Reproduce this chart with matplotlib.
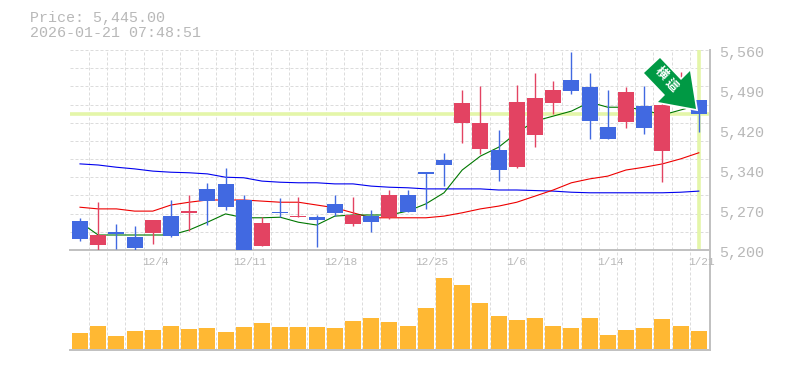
import numpy as np
import matplotlib
matplotlib.use('Agg')
import matplotlib.pyplot as plt

# candle values, oldest first
dates = ['12/4', '12/11', '12/18', '12/25', '1/6', '1/14', '1/21']
date_idx = [4, 9, 14, 19, 24, 29, 34]
opens = [5252, 5209, 5232, 5223, 5231, 5261, 5267, 5310, 5319, 5290, 5207, 5268, 5259, 5259, 5283, 5247, 5261, 5259,
         5299, 5340, 5362, 5429, 5382, 5380, 5349, 5407, 5465, 5506, 5493, 5421, 5430, 5459, 5378, 5470, 5470]
closes = [5220, 5227, 5229, 5204, 5254, 5225, 5270, 5288, 5277, 5200, 5249, 5267, 5261, 5254, 5267, 5263, 5250, 5299,
          5268, 5337, 5353, 5465, 5429, 5344, 5466, 5474, 5488, 5486, 5432, 5400, 5484, 5420, 5461, 5497, 5445]
highs = [5258, 5286, 5247, 5243, 5254, 5290, 5299, 5321, 5348, 5299, 5259, 5294, 5295, 5263, 5299, 5295, 5272, 5308,
         5308, 5340, 5375, 5488, 5495, 5416, 5497, 5519, 5504, 5556, 5519, 5488, 5493, 5495, 5475, 5520, 5470]
lows = [5216, 5200, 5202, 5200, 5211, 5223, 5234, 5245, 5272, 5200, 5207, 5259, 5259, 5205, 5261, 5243, 5232, 5256,
        5268, 5274, 5315, 5393, 5373, 5324, 5348, 5385, 5445, 5481, 5400, 5400, 5420, 5409, 5322, 5461, 5412]

ma_short = [5250, 5227, 5227, 5227, 5227, 5227, 5236, 5250, 5265, 5258, 5258, 5259, 5250, 5245, 5261, 5263, 5263, 5263,
            5270, 5283, 5303, 5344, 5369, 5385, 5411, 5432, 5441, 5450, 5466, 5457, 5457, 5452, 5443, 5452, 5461]
ma_mid = [5277, 5274, 5274, 5270, 5270, 5281, 5286, 5290, 5290, 5290, 5288, 5286, 5286, 5281, 5276, 5267, 5258, 5258,
          5258, 5258, 5261, 5267, 5274, 5279, 5286, 5297, 5308, 5321, 5328, 5333, 5344, 5349, 5355, 5364, 5375]
ma_long = [5355, 5353, 5349, 5346, 5342, 5340, 5339, 5337, 5331, 5330, 5324, 5322, 5321, 5321, 5319, 5319, 5315, 5313,
           5312, 5310, 5310, 5310, 5310, 5308, 5308, 5307, 5306, 5304, 5303, 5303, 5303, 5303, 5303, 5304, 5306]

volumes = [16, 23, 13, 18, 19, 23, 20, 21, 17, 22, 26, 22, 22, 22, 21, 28, 31, 27,
           23, 41, 71, 64, 46, 33, 29, 31, 23, 21, 31, 14, 19, 21, 30, 23, 18]

price_ticks = [5560, 5488, 5416, 5344, 5272, 5200]
price_labels = ['5,560', '5,490', '5,420', '5,340', '5,270', '5,200']
last_price = 5445

BLUE = '#4169e1'
RED = '#e34362'
GRID = '#dcdcdc'
FRAME = '#c0c0c0'
TEXT = '#b8b8b8'
MONO = 'Liberation Mono'
CJK = ['Noto Sans CJK JP', 'DejaVu Sans']

W, H = 785, 370
x = np.arange(len(opens))
xlim = (-0.549, 34.615)

fig = plt.figure(figsize=(W / 100, H / 100), dpi=100)
ax = fig.add_axes([70 / W, 1 - 250 / H, 640 / W, 200 / H], zorder=2)
vax = fig.add_axes([70 / W, 1 - 350 / H, 640 / W, 100 / H], zorder=1)

for a in (ax, vax):
    a.set_xlim(xlim)
    a.set_xticks(x[:-1] + 0.5, minor=True)
    a.grid(which='minor', axis='x', color=GRID, lw=0.72, ls=(0, (3, 2)))
    a.tick_params(which='both', length=0)
    a.set_axisbelow(True)
    for s in ('left', 'top'):
        a.spines[s].set_visible(False)
    for s in ('right', 'bottom'):
        a.spines[s].set_color(FRAME)
        a.spines[s].set_linewidth(1.4)

# price panel
ax.set_ylim(5200, 5560)
ax.set_yticks(np.linspace(5200, 5560, 12))
ax.grid(axis='y', color=GRID, lw=0.72, ls=(0, (3, 2)))
ax.set_yticklabels([])
ax.set_xticks([])

ax.axhline(last_price, color='#e4f6a9', lw=2.6, zorder=1)
ax.axvline(x[-1], color='#e4f6a9', lw=2.6, zorder=1)

ax.plot(x, ma_long, color='#0000ee', lw=0.8, zorder=2)
ax.plot(x, ma_mid, color='#ee0000', lw=0.8, zorder=2)
ax.plot(x, ma_short, color='#007700', lw=0.8, zorder=2)

for i in x:
    col = RED if closes[i] >= opens[i] else BLUE
    ax.vlines(i, lows[i], highs[i], color=col, lw=1.0, zorder=3)
    ax.bar(i, abs(closes[i] - opens[i]), bottom=min(opens[i], closes[i]), width=0.88, color=col, zorder=3)

# arrow signal, drawn in pixel coordinates of the figure, white halo under it
arrow_px = [(660, 58), (644, 73), (665, 95), (658, 102), (696, 109), (690, 71), (681, 80)]
arrow_fig = [(px / W, 1 - py / H) for px, py in arrow_px]
fig.add_artist(plt.Polygon(arrow_fig, closed=True, transform=fig.transFigure, fc='white', ec='white', lw=2.5, zorder=5))
fig.add_artist(plt.Polygon(arrow_fig, closed=True, transform=fig.transFigure, color='#009944', zorder=6, lw=0))
fig.text(661.5 / W, 1 - 73 / H, '横', color='white', fontsize=9, rotation=-45, ha='center', va='center',
         family=CJK, weight='bold', zorder=7)
fig.text(671.5 / W, 1 - 85 / H, '這', color='white', fontsize=9, rotation=-45, ha='center', va='center',
         family=CJK, weight='bold', zorder=7)

# right hand price labels
for v, lab in zip(price_ticks, price_labels):
    ax.annotate(lab, (1, v), xycoords=('axes fraction', 'data'), xytext=(6.5, -2.2), textcoords='offset points',
                color=TEXT, fontsize=10.8, family=MONO, va='center', ha='left', annotation_clip=False)

# date labels start a little left of their candle
for i, d in zip(date_idx, dates):
    ax.annotate(d, (i, 0), xycoords=('data', 'axes fraction'), xytext=(-7.9, -8.5), textcoords='offset points',
                color=TEXT, fontsize=8, family=MONO, va='center', ha='left', annotation_clip=False)

# volume panel
vax.bar(x, volumes, width=0.88, color='#ffb833', zorder=3)
vax.set_ylim(-1.5, 98.5)
vax.set_xticks([])
vax.set_yticks([])

fig.text(30 / W, 1 - 18 / H, 'Price: 5,445.00', color=TEXT, fontsize=10.8, family=MONO, va='center')
fig.text(30 / W, 1 - 33 / H, '2026-01-21 07:48:51', color=TEXT, fontsize=10.8, family=MONO, va='center')

fig.savefig('out.png', dpi=100)
